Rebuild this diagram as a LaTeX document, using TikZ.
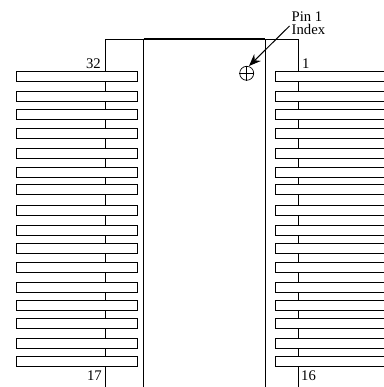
\documentclass[tikz,border=0pt]{standalone}
\usepackage{fontspec}
\setmainfont{Liberation Serif}
\usetikzlibrary{arrows.meta}
\tikzset{
  ln/.style={draw=black,line width=0.9pt},
  lbl/.style={inner sep=0pt,font=\fontsize{14.7pt}{13.3pt}\selectfont},
}
\begin{document}
\begin{tikzpicture}[x=1pt,y=-1pt]
\useasboundingbox (0,0) rectangle (383,387);
% body
\draw[ln] (105.5,387) -- (105.5,39) -- (143.5,39);
\draw[ln] (265,39) -- (298.5,39) -- (298.5,387);
\draw[ln] (143.5,387) -- (143.5,39);
\draw[ln] (265,387) -- (265,39);
\draw[draw=black,line width=1.4pt] (143.5,39) -- (265,39);
% pins
\foreach \t/\b in {71.5/81.5,91/101,109.5/119.5,128.5/138.5,148/158,167/177,184.5/194.5,205.5/215.5,225/235,243.5/253.5,262.5/272.5,282/292,300.5/310,318/328,338/348,356.5/366}{
  \draw[ln,fill=white] (16.5,\t) rectangle (137,\b);
  \draw[ln,fill=white] (384,\t) -- (275,\t) -- (275,\b) -- (384,\b);
}
% index mark
\node (idx) [circle,draw=black,line width=0.7pt,minimum size=14pt,inner sep=0pt] at (246.7,73.3) {};
\draw[line width=0.7pt] (idx.north) -- (idx.south);
\draw[line width=0.7pt] (idx.west) -- (idx.east);
% labels
\node (p32) [lbl,anchor=base east] at (101,69) {32};
\node (p1) [lbl,anchor=base west] at (302,69) {1};
\node (p17) [lbl,anchor=base east] at (102,380) {17};
\node (p16) [lbl,anchor=base west] at (301,380) {16};
\node (pin) [lbl,anchor=base west] at (291.5,21.7) {Pin 1};
\node (index) [lbl,anchor=base west] at (291.5,35) {Index};
\coordinate (from) at (289.5,26);
\coordinate (tip) at (249,66);
\draw[line width=1pt,-{Stealth[length=12pt,width=9.5pt]}] (from) -- (tip);
\end{tikzpicture}
\end{document}
